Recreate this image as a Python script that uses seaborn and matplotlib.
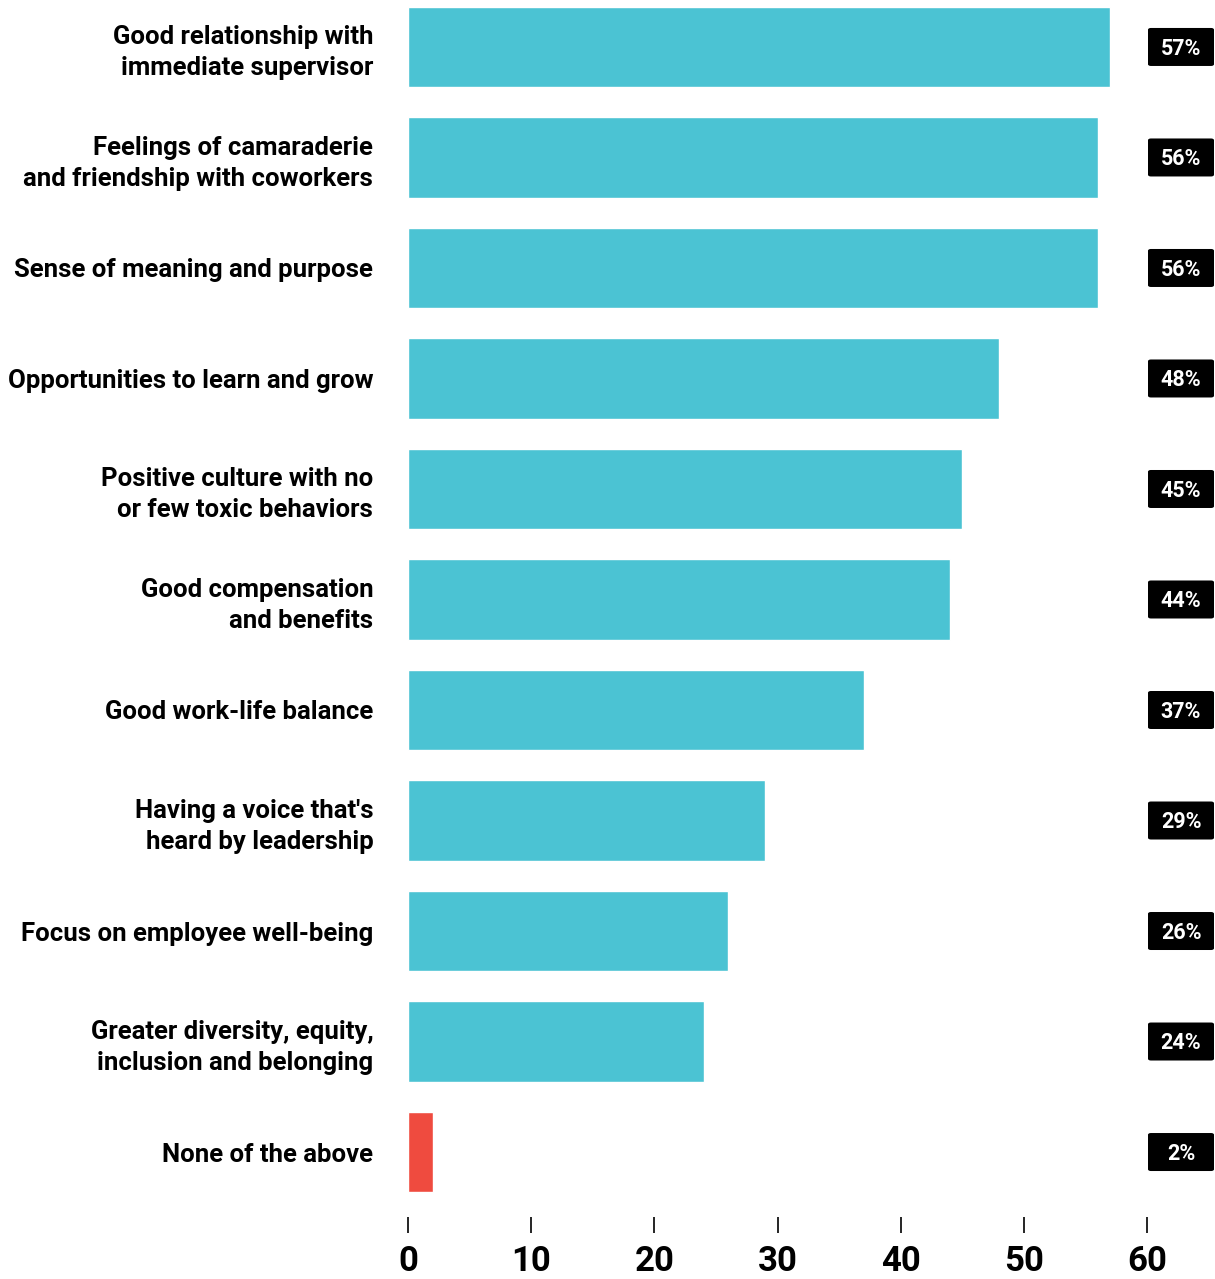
import matplotlib
matplotlib.use("Agg")
import matplotlib.pyplot as plt
import matplotlib.transforms as mtransforms
from matplotlib.patches import FancyBboxPatch
import seaborn as sns
import pandas as pd

categories = [
    "Good relationship with\nimmediate supervisor",
    "Feelings of camaraderie\nand friendship with coworkers",
    "Sense of meaning and purpose",
    "Opportunities to learn and grow",
    "Positive culture with no\nor few toxic behaviors",
    "Good compensation\nand benefits",
    "Good work-life balance",
    "Having a voice that's\nheard by leadership",
    "Focus on employee well-being",
    "Greater diversity, equity,\ninclusion and belonging",
    "None of the above",
]
values = [57, 56, 56, 48, 45, 44, 37, 29, 26, 24, 2]
bar_colors = ["#4BC3D3"] * 10 + ["#EF4B3F"]
x_ticks = [0, 10, 20, 30, 40, 50, 60]

sns.set_theme(style="white")
plt.rcParams["font.family"] = ["Roboto", "DejaVu Sans"]

df = pd.DataFrame({"category": categories, "value": values})

fig = plt.figure(figsize=(12.15, 12.79), dpi=100)
ax = fig.add_axes([408 / 1215, 1 - 1217 / 1279, (1147 - 408) / 1215, 1217 / 1279])

sns.barplot(
    data=df, x="value", y="category", hue="category",
    palette=bar_colors, legend=False, width=0.725, orient="h",
    saturation=1, ax=ax,
)

ax.set_xlim(0, 60)
ax.set_ylim(10.588, -0.425)
sns.despine(ax=ax, left=True, bottom=True, top=True, right=True)
ax.set_xlabel("")
ax.set_ylabel("")

ax.set_xticks(x_ticks)
ax.set_xticklabels([str(t) for t in x_ticks])
ax.tick_params(axis="x", direction="out", length=11.5, width=1.2, color="black",
               pad=9, bottom=True)
for lbl in ax.get_xticklabels():
    lbl.set_fontweight("bold")
    lbl.set_fontsize(25)
    lbl.set_color("black")

ax.tick_params(axis="y", length=0, pad=25)
for lbl in ax.get_yticklabels():
    lbl.set_fontweight("bold")
    lbl.set_fontsize(18.5)
    lbl.set_color("black")
    lbl.set_linespacing(1.35)

# value badges to the right of the plotting area
trans = mtransforms.blended_transform_factory(ax.transAxes, ax.transData)
box_w = 66 / (1147 - 408)
box_h = 38 / 110.5
box_cx = (1181 - 408) / (1147 - 408)
for i, v in enumerate(values):
    patch = FancyBboxPatch(
        (box_cx - box_w / 2, i - box_h / 2), box_w, box_h,
        boxstyle="round,pad=0,rounding_size=0.004",
        transform=trans, facecolor="black", edgecolor="none", clip_on=False,
        mutation_aspect=box_h / box_w,
    )
    ax.add_patch(patch)
    ax.text(box_cx, i + 0.07, f"{v}%", transform=trans, ha="center", va="baseline",
            color="white", fontsize=15.5, fontweight="bold", clip_on=False)

fig.savefig("out.png", dpi=100)
